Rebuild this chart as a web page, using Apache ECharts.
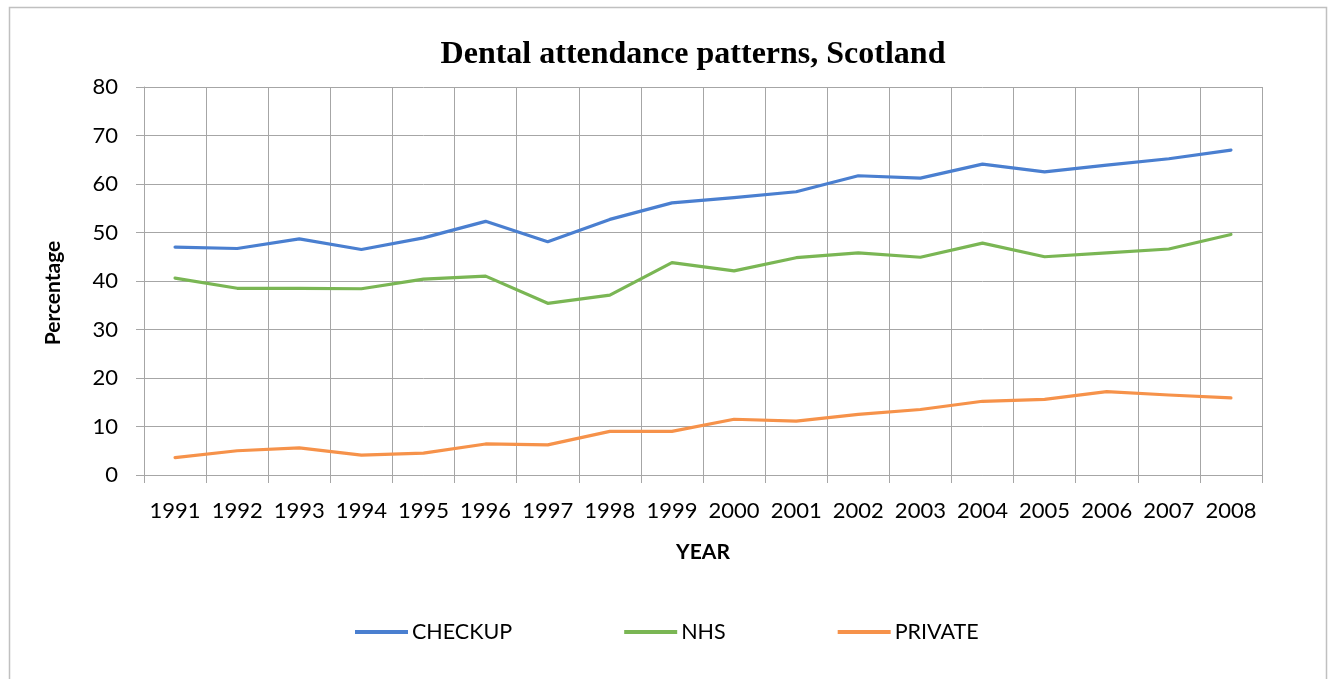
<!DOCTYPE html>
<html>
<head>
<meta charset="utf-8">
<title>Dental attendance patterns, Scotland</title>
<script src="https://cdn.jsdelivr.net/npm/echarts@6/dist/echarts.min.js"></script>
<style>
  html, body { margin: 0; padding: 0; background: #ffffff; }
  #chart { width: 1332px; height: 679px; }
</style>
</head>
<body>
<div id="chart"></div>
<script>
// Survey years on the category axis
const years = ['1991', '1992', '1993', '1994', '1995', '1996', '1997', '1998', '1999',
               '2000', '2001', '2002', '2003', '2004', '2005', '2006', '2007', '2008'];

// Percentage of adults reporting each attendance pattern
const checkup = [47.0, 46.7, 48.7, 46.5, 48.9, 52.3, 48.1, 52.7, 56.1,
                 57.2, 58.4, 61.7, 61.2, 64.1, 62.5, 63.9, 65.2, 67.0];
const nhs     = [40.6, 38.5, 38.5, 38.4, 40.4, 41.0, 35.4, 37.1, 43.8,
                 42.1, 44.8, 45.8, 44.9, 47.8, 45.0, 45.8, 46.6, 49.6];
const privateCare = [3.6, 5.0, 5.6, 4.1, 4.5, 6.4, 6.2, 9.0, 9.0,
                 11.5, 11.1, 12.5, 13.5, 15.2, 15.6, 17.2, 16.5, 15.9];

const seriesNames = ['CHECKUP', 'NHS', 'PRIVATE'];
const yTicks = [0, 10, 20, 30, 40, 50, 60, 70, 80];

const FONT = 'Lato, "Open Sans", sans-serif';
const GRID = '#a6a6a6';
const COLORS = ['#4a7fd0', '#7ab654', '#f6924a'];

const chart = echarts.init(document.getElementById('chart'));

const lineSeries = [checkup, nhs, privateCare].map((values, i) => ({
  name: seriesNames[i],
  type: 'line',
  data: values,
  symbol: 'none',
  smooth: false,
  lineStyle: { width: 3.2, color: COLORS[i], cap: 'round', join: 'round' },
  itemStyle: { color: COLORS[i] },
  emphasis: { disabled: true }
}));

chart.setOption({
  animation: false,
  backgroundColor: '#ffffff',
  color: COLORS,
  title: {
    text: 'Dental attendance patterns, Scotland',
    left: 688,
    textAlign: 'center',
    top: 34,
    textStyle: {
      fontFamily: '"Liberation Serif", "Times New Roman", serif',
      fontWeight: 'bold',
      fontSize: 32,
      color: '#000000'
    }
  },
  legend: {
    data: seriesNames,
    left: 350,
    top: 616,
    itemWidth: 53,
    itemGap: 112,
    itemHeight: 4,
    icon: 'rect',
    textStyle: { fontFamily: FONT, fontSize: 21.5, color: '#000000', padding: [0, 0, 0, -1] }
  },
  grid: {
    left: 144,
    right: 70,
    top: 87,
    bottom: 204,
    containLabel: false
  },
  xAxis: {
    type: 'category',
    data: years,
    boundaryGap: true,
    name: 'YEAR',
    nameLocation: 'middle',
    nameGap: 67,
    nameTextStyle: { fontFamily: FONT, fontWeight: 'bold', fontSize: 21, color: '#000000' },
    axisLine: { show: true, lineStyle: { color: GRID, width: 1 } },
    axisTick: { show: true, length: 8, alignWithLabel: false, lineStyle: { color: GRID } },
    axisLabel: { margin: 25, fontFamily: FONT, fontSize: 22, color: '#000000', interval: 0 },
    splitLine: { show: true, lineStyle: { color: GRID, width: 1 } }
  },
  yAxis: {
    type: 'value',
    min: yTicks[0],
    max: yTicks[yTicks.length - 1],
    interval: 10,
    name: 'Percentage',
    nameLocation: 'middle',
    nameRotate: 90,
    nameGap: 80,
    nameTextStyle: {
      fontFamily: FONT, fontWeight: 'bold', fontSize: 21, color: '#000000',
      padding: [0, 24, 0, 0]
    },
    axisLine: { show: true, lineStyle: { color: GRID, width: 1 } },
    axisTick: { show: true, length: 8, lineStyle: { color: GRID } },
    axisLabel: { margin: 26, fontFamily: FONT, fontSize: 22, color: '#000000' },
    splitLine: { show: true, lineStyle: { color: GRID, width: 1 } }
  },
  graphic: [{
    type: 'rect',
    silent: true,
    z: -1,
    shape: { x: 9.5, y: 7.5, width: 1317, height: 700 },
    style: { fill: 'none', stroke: '#c0c0c0', lineWidth: 1.5 }
  }],
  series: lineSeries
});
</script>
</body>
</html>
